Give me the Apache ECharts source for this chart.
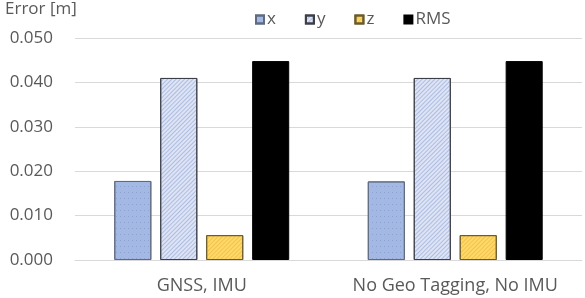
<!DOCTYPE html>
<html><head><meta charset="utf-8">
<script src="https://cdn.jsdelivr.net/npm/echarts@6/dist/echarts.min.js"></script>
<style>html,body{margin:0;padding:0;background:#fff}#c{width:585px;height:298px}</style>
</head><body><div id="c"></div>
<script>
const categories = ['GNSS, IMU', 'No Geo Tagging, No IMU'];
const seriesNames = ['x', 'y', 'z', 'RMS'];
const xVals = [0.0178, 0.0177];
const yVals = [0.0410, 0.0410];
const zVals = [0.0056, 0.0056];
const rmsVals = [0.0448, 0.0448];
const yTicks = {min: 0, max: 0.05, interval: 0.01};

const font = '"Open Sans", "Noto Sans", sans-serif';
const styles = [
  {color: '#a3b8e3', borderColor: '#5f6b80', borderWidth: 1,
   decal: {symbol: 'rect', symbolSize: 1, dashArrayX: [1, 3], dashArrayY: [1, 5], color: 'rgba(120,140,190,0.5)'}},
  {color: '#dde4f6', borderColor: '#3c3f48', borderWidth: 1,
   decal: {symbol: 'rect', symbolSize: 1, dashArrayX: [1, 0], dashArrayY: [1, 2], rotation: -Math.PI / 4, color: 'rgba(130,150,200,0.5)'}},
  {color: '#ffd966', borderColor: '#6b5a2a', borderWidth: 1,
   decal: {symbol: 'rect', symbolSize: 1, dashArrayX: [1, 0], dashArrayY: [1, 2], rotation: -Math.PI / 4, color: 'rgba(230,170,60,0.5)'}},
  {color: '#000000', borderColor: '#000000', borderWidth: 1}
];
const data = [xVals, yVals, zVals, rmsVals];

const chart = echarts.init(document.getElementById('c'), null, {renderer: 'canvas'});
chart.setOption({
  animation: false,
  textStyle: {fontFamily: font},
  title: {text: 'Error [m]', left: 0, top: -4, textStyle: {fontSize: 17, fontWeight: 'normal', color: '#595959', fontFamily: font}},
  legend: {
    data: seriesNames, left: 250, top: 6, itemWidth: 8, itemHeight: 8, itemGap: 29,
    icon: 'rect',
    textStyle: {fontSize: 17, color: '#595959', fontFamily: font, padding: [0, 0, 0, -2]}
  },
  grid: {left: 75, right: 3, top: 38, bottom: 38, containLabel: false},
  xAxis: {
    type: 'category', data: categories,
    axisLine: {lineStyle: {color: '#d9d9d9'}},
    axisTick: {show: false},
    axisLabel: {interval: 0, fontSize: 18, color: '#595959', margin: 17, fontFamily: font}
  },
  yAxis: {
    type: 'value', min: yTicks.min, max: yTicks.max, interval: yTicks.interval,
    axisLine: {show: false}, axisTick: {show: false},
    splitLine: {lineStyle: {color: '#d9d9d9'}},
    axisLabel: {fontSize: 17, color: '#595959', margin: 22, fontFamily: font, formatter: v => v.toFixed(3)}
  },
  series: seriesNames.map((n, i) => ({
    name: n, type: 'bar', data: data[i],
    barGap: '24%', barCategoryGap: '31%',
    itemStyle: styles[i]
  }))
});
</script></body></html>
